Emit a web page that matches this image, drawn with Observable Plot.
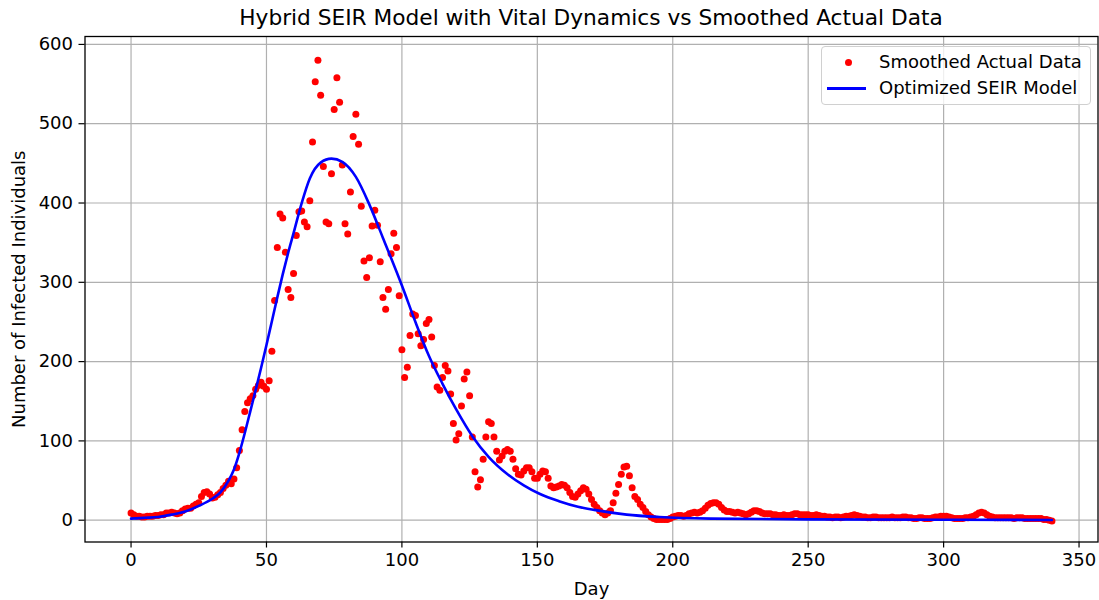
<!DOCTYPE html>
<html>
<head>
<meta charset="utf-8">
<script src="https://cdn.jsdelivr.net/npm/d3@7"></script>
<script src="https://cdn.jsdelivr.net/npm/@observablehq/plot@0.6"></script>
<style>
  body { margin: 0; background: #fff; font-family: "DejaVu Sans", sans-serif; }
  #wrap { position: relative; width: 1099px; height: 600px; }
  #title { position: absolute; left: 0; top: 0; width: 1016px; padding-left: 83px; height: 36px; line-height: 36px; text-align: center; font-size: 21.7px; color: #000; }
  #chart { position: absolute; left: 0; top: 30px; }
  #legend { position: absolute; left: 821px; top: 46px; width: 268px; height: 57px; border: 1px solid #d0d0d0; border-radius: 4px; background: rgba(255,255,255,0.8); font-size: 18px; color: #000; }
  #legend .dot { position: absolute; left: 23px; top: 12px; width: 7px; height: 7px; border-radius: 50%; background: red; }
  #legend .ln { position: absolute; left: 5px; top: 40px; width: 39px; height: 2.6px; background: blue; }
  #legend .t { position: absolute; left: 57px; height: 22px; line-height: 22px; white-space: nowrap; }
</style>
</head>
<body>
<div id="wrap">
  <div id="title">Hybrid SEIR Model with Vital Dynamics vs Smoothed Actual Data</div>
  <div id="chart"></div>
  <div id="legend">
    <div class="dot"></div><div class="t" style="top:4px">Smoothed Actual Data</div>
    <div class="ln"></div><div class="t" style="top:30px">Optimized SEIR Model</div>
  </div>
</div>
<script>
// Smoothed actual data: one value per day, day 0 .. 340
const actualValues = [
  9, 7, 5, 5, 4, 4, 5, 5, 5, 6,
  6, 7, 7, 9, 9, 10, 9, 8, 9, 12,
  14, 15, 15, 18, 20, 22, 30, 35, 36, 33,
  28, 29, 32, 35, 40, 44, 49, 46, 52, 66,
  88, 114, 137, 148, 153, 157, 165, 170, 174, 169,
  165, 176, 213, 277, 344, 386, 381, 338, 291, 281,
  311, 359, 389, 390, 376, 370, 403, 477, 553, 580,
  536, 446, 376, 374, 437, 518, 558, 527, 448, 374,
  361, 414, 484, 512, 474, 396, 327, 306, 331, 371,
  391, 372, 326, 281, 266, 291, 336, 362, 344, 283,
  215, 180, 193, 233, 260, 258, 235, 220, 228, 248,
  253, 231, 195, 168, 164, 180, 195, 188, 159, 122,
  101, 109, 144, 178, 187, 157, 105, 61, 42, 51,
  77, 105, 124, 122, 105, 87, 76, 81, 87, 89,
  87, 77, 65, 58, 57, 62, 66, 66, 61, 53,
  53, 58, 62, 61, 53, 43, 41, 42, 43, 45,
  44, 41, 35, 30, 29, 33, 37, 41, 39, 33,
  26, 20, 16, 12, 9, 7, 9, 12, 22, 34,
  45, 58, 67, 68, 56, 41, 30, 26, 20, 16,
  11, 7, 4, 2, 1, 1, 1, 1, 1, 2,
  4, 5, 6, 6, 5, 6, 8, 9, 10, 9,
  10, 12, 15, 19, 21, 22, 22, 20, 16, 13,
  11, 11, 10, 9, 10, 9, 8, 7, 8, 10,
  12, 12, 11, 9, 8, 8, 8, 7, 7, 6,
  6, 7, 6, 6, 7, 8, 8, 7, 7, 7,
  7, 6, 6, 7, 6, 5, 5, 4, 4, 3,
  4, 4, 3, 4, 5, 5, 6, 7, 6, 5,
  4, 4, 3, 3, 4, 4, 3, 3, 3, 3,
  3, 4, 3, 3, 3, 4, 4, 3, 3, 2,
  2, 3, 3, 2, 2, 2, 3, 4, 4, 5,
  5, 5, 4, 3, 2, 2, 2, 2, 3, 3,
  4, 5, 7, 9, 10, 9, 7, 5, 4, 3,
  3, 3, 3, 3, 3, 3, 2, 3, 3, 3,
  2, 2, 2, 2, 2, 2, 2, 1, 1, 0,
  -1
];

// Optimized SEIR model curve, read at selected days
const modelDays   = [0, 5, 10, 15, 20, 25, 30, 33, 36, 38, 40, 42, 44, 46, 48, 50, 52, 54, 56, 58, 60, 63, 66, 70, 74, 78, 83, 88, 93, 100, 105, 110, 115, 120, 126, 132, 139, 145, 151, 158, 165, 171, 183, 195, 214, 250, 300, 340];
const modelValues = [2, 3, 4, 7, 11, 18, 27, 35, 50, 64, 85, 110, 137, 164, 192, 221, 251, 281, 310, 337, 362, 400, 431, 451, 456, 452, 433, 398, 356, 296, 250, 207, 172, 140, 106, 80, 58, 44, 33, 24, 17, 13, 7, 4, 2, 1, 0.5, 0.3];

const xTicks = [0, 50, 100, 150, 200, 250, 300, 350];
const yTicks = [0, 100, 200, 300, 400, 500, 600];

const actual = actualValues.map((v, i) => ({day: i, value: v}));
const model = modelDays.map((d, i) => ({day: d, value: modelValues[i]}));

const chart = Plot.plot({
  width: 1099,
  height: 570,
  marginTop: 6,
  marginBottom: 58.5,
  marginLeft: 84.5,
  marginRight: 1.5,
  style: {fontFamily: "DejaVu Sans", fontSize: "18px", color: "#000", background: "transparent"},
  x: {domain: [-17, 357]},
  y: {domain: [-27.5, 610]},
  marks: [
    Plot.gridX(xTicks, {stroke: "#b0b0b0", strokeOpacity: 1, strokeWidth: 1.2}),
    Plot.gridY(yTicks, {stroke: "#b0b0b0", strokeOpacity: 1, strokeWidth: 1.2}),
    Plot.dot(actual, {x: "day", y: "value", r: 3.5, fill: "red", stroke: null}),
    Plot.line(model, {x: "day", y: "value", stroke: "blue", strokeWidth: 2.6, curve: "monotone-x"}),
    Plot.axisX(xTicks, {tickSize: 6, tickPadding: 5, label: null, fontSize: 18, stroke: "#000", strokeWidth: 1.2}),
    Plot.axisY(yTicks, {tickSize: 6, tickPadding: 6, label: null, fontSize: 18, stroke: "#000", strokeWidth: 1.2}),
    Plot.frame({stroke: "#000", strokeWidth: 1.3}),
    Plot.text(["Day"], {frameAnchor: "bottom", dy: 47, lineAnchor: "middle", textAnchor: "middle", fontSize: 18, fill: "#000"}),
    Plot.text(["Number of Infected Individuals"], {frameAnchor: "left", dx: -66, rotate: -90, lineAnchor: "middle", textAnchor: "middle", fontSize: 18, fill: "#000"})
  ]
});
document.getElementById("chart").appendChild(chart);
</script>
</body>
</html>
